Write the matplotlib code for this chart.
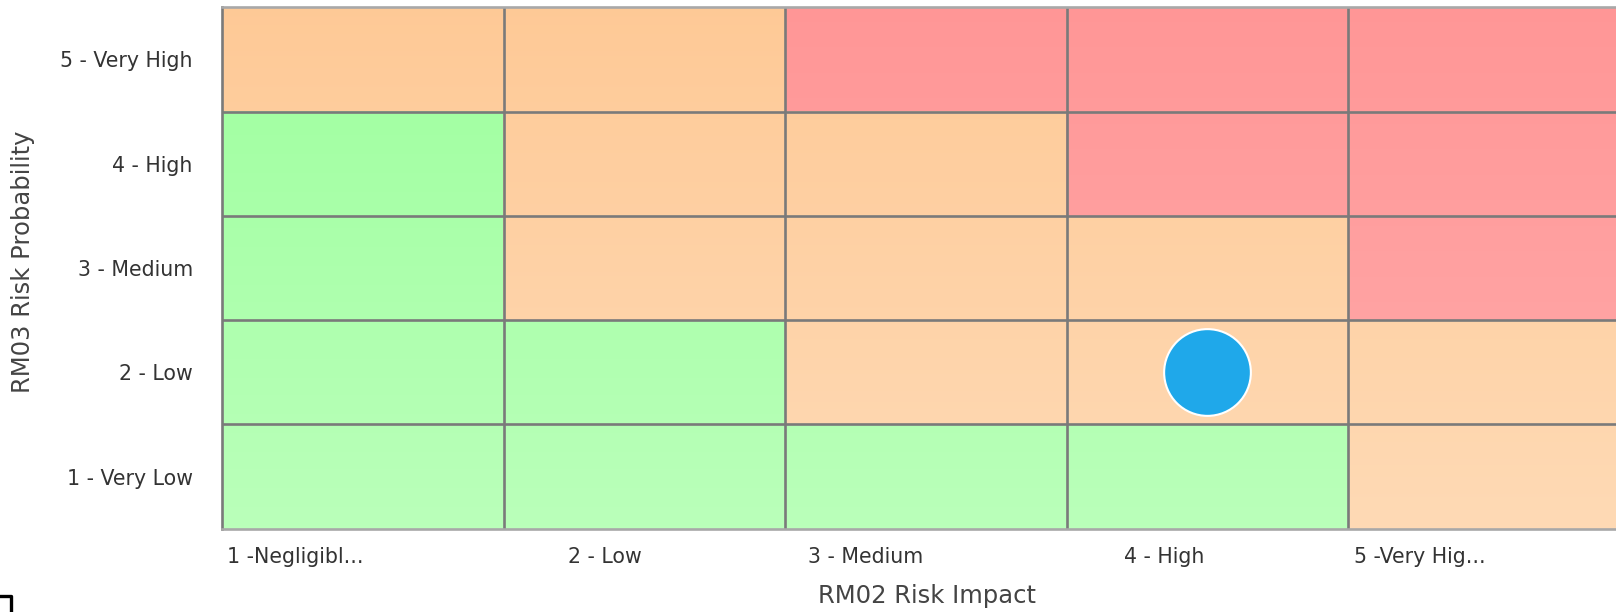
import numpy as np
import matplotlib.pyplot as plt
from matplotlib.lines import Line2D

# risk matrix: rows = probability 1..5 (bottom to top), cols = impact 1..5
impact_labels = ['1 -Negligibl...', '2 - Low', '3 - Medium', '4 - High', '5 -Very Hig...']
prob_labels = ['1 - Very Low', '2 - Low', '3 - Medium', '4 - High', '5 - Very High']
# 0 = green, 1 = orange, 2 = red
risk_level = [
    [0, 0, 0, 0, 1],  # prob 1
    [0, 0, 1, 1, 1],  # prob 2
    [0, 1, 1, 1, 2],  # prob 3
    [0, 1, 1, 2, 2],  # prob 4
    [1, 1, 2, 2, 2],  # prob 5
]
# the single risk item
item_impact = [4]
item_prob = [2]

# colours at top and bottom of the plot area (vertical gradient)
top_cols = {0: (0.62, 1.0, 0.62), 1: (0.996, 0.79, 0.59), 2: (1.0, 0.59, 0.59)}
bot_cols = {0: (0.73, 1.0, 0.73), 1: (1.0, 0.855, 0.71), 2: (1.0, 0.67, 0.67)}

ny = 500
lev = np.array(risk_level)
img = np.zeros((ny, 5, 3))
for r in range(ny):
    t = r / (ny - 1)  # 0 at top, 1 at bottom
    prob_row = 4 - int(r * 5 / ny)
    for c in range(5):
        k = lev[prob_row, c]
        img[r, c] = np.array(top_cols[k]) * (1 - t) + np.array(bot_cols[k]) * t

fig = plt.figure(figsize=(16.16, 6.12), dpi=100)
ax = fig.add_axes([222 / 1616, 83.3 / 612, 1407.5 / 1616, 521.5 / 612])
ax.imshow(img, extent=(0, 5, 0, 5), aspect='auto', interpolation='nearest', origin='upper')

for v in range(1, 5):
    ax.axvline(v, color='#7a7a7a', lw=1.9)
    ax.axhline(v, color='#7a7a7a', lw=1.9)

ax.scatter([i - 0.5 for i in item_impact], [p - 0.5 for p in item_prob],
           s=3900, color='#1fa8ea', edgecolor='white', linewidth=1.5, zorder=5)

ax.set_xlim(0, 5)
ax.set_ylim(0, 5)

for side in ['left', 'right']:
    ax.spines[side].set_color('#7a7a7a')
    ax.spines[side].set_linewidth(1.9)
for side in ['top', 'bottom']:
    ax.spines[side].set_color('#a8a8a8')
    ax.spines[side].set_linewidth(1.9)

# tick label positions as laid out by the source chart
ax.set_xticks([0.259, 1.361, 2.287, 3.348, 4.256])
ax.set_xticklabels(impact_labels)
ax.set_yticks([p + 0.5 for p in range(5)])
ax.set_yticklabels(prob_labels)
ax.tick_params(axis='x', length=0, pad=13, labelsize=14.8, labelcolor='#333333')
ax.tick_params(axis='y', length=0, pad=21, labelsize=14.8, labelcolor='#333333')

fig.text(927 / 1616, 1 - 596 / 612, 'RM02 Risk Impact', ha='center', va='center',
         fontsize=17.5, color='#444444')
fig.text(23 / 1616, 1 - 262 / 612, 'RM03 Risk Probability', ha='center', va='center',
         rotation=90, fontsize=17.5, color='#444444')

# small clipped icon in the corner
fig.add_artist(Line2D([0, 10.5 / 1616, 10.5 / 1616], [1 - 596 / 612, 1 - 596 / 612, 0],
                      transform=fig.transFigure, color='black', lw=2.4))

fig.savefig('out.png', dpi=100)
